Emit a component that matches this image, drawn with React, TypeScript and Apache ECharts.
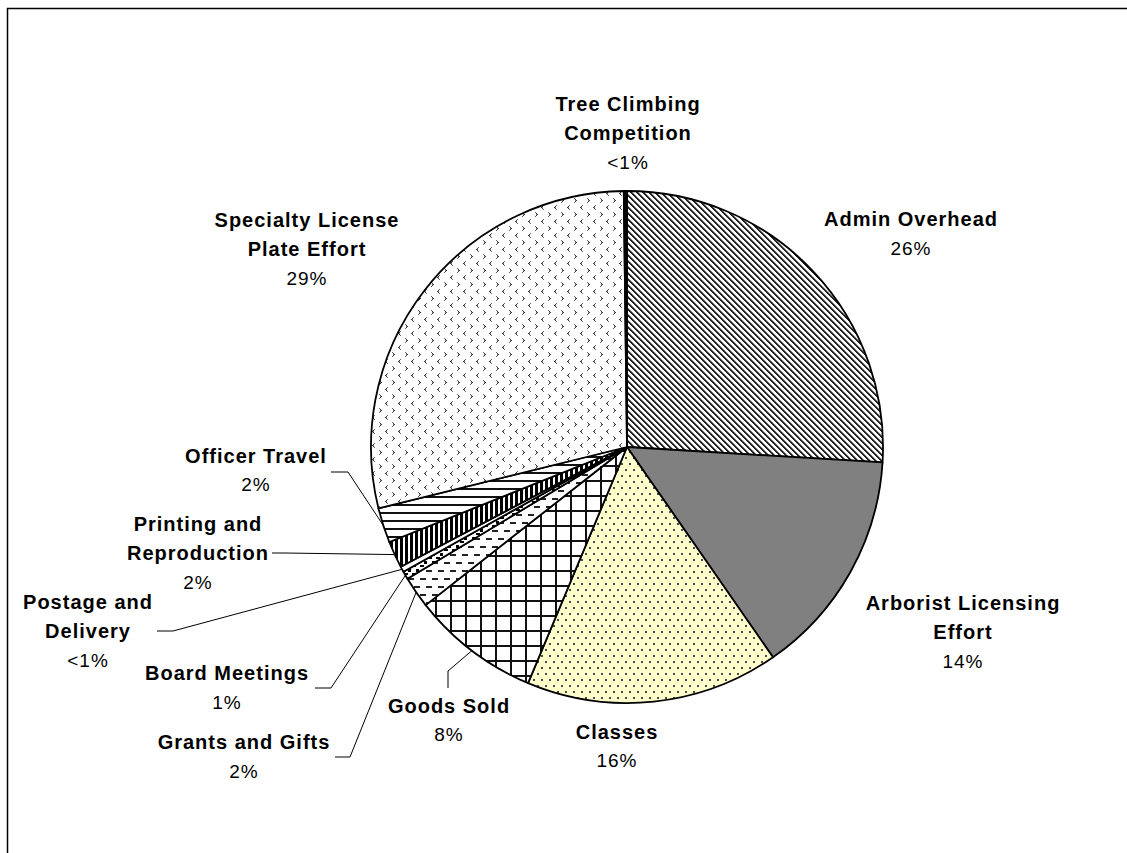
import React, { useEffect, useRef } from "react";
import * as echarts from "echarts";

// ---- data ----
const categories = [
  "Admin Overhead",
  "Arborist Licensing\nEffort",
  "Classes",
  "Goods Sold",
  "Grants and Gifts",
  "Board Meetings",
  "Postage and\nDelivery",
  "Printing and\nReproduction",
  "Officer Travel",
  "Specialty License\nPlate Effort",
  "Tree Climbing\nCompetition",
];
const shares = [26.0, 14.4, 16.0, 8.1, 2.0, 0.5, 0.35, 1.7, 2.2, 28.7, 0.2];
const shareLabels = ["26%", "14%", "16%", "8%", "2%", "1%", "<1%", "2%", "2%", "29%", "<1%"];

// ---- label layout (label block centre, leader-line bend and end) ----
type LL = { at: [number, number]; line: [number, number][] | null };
const LABEL_LAYOUT: LL[] = [
  { at: [911, 233.5], line: null },
  { at: [963, 632], line: null },
  { at: [617, 746], line: null },
  { at: [449, 720], line: [[448, 671], [448, 688]] },
  { at: [244, 756.5], line: [[350, 757], [335, 757]] },
  { at: [227, 687.5], line: [[331, 688], [315, 688]] },
  { at: [88, 631], line: [[173, 631], [157, 631]] },
  { at: [198, 553], line: [[285, 553], [272, 553]] },
  { at: [256, 470], line: [[348, 472], [331, 472]] },
  { at: [307, 249], line: null },
  { at: [628, 133], line: null },
];

const FONT = "'Liberation Sans', Arial, Helvetica, sans-serif";

type Px = (x: number, y: number, c: string) => void;
function tile(w: number, h: number, bg: string, paint: (px: Px, ctx: CanvasRenderingContext2D) => void) {
  const c = document.createElement("canvas");
  c.width = w;
  c.height = h;
  const ctx = c.getContext("2d")!;
  ctx.fillStyle = bg;
  ctx.fillRect(0, 0, w, h);
  const px: Px = (x, y, col) => {
    ctx.fillStyle = col;
    ctx.fillRect(((x % w) + w) % w, ((y % h) + h) % h, 1, 1);
  };
  paint(px, ctx);
  return { image: c.toDataURL(), repeat: "repeat", imageWidth: w, imageHeight: h };
}

function makeFills(): any[] {
  const admin = tile(6, 6, "#ffffff", (px) => {
    for (let x = 0; x < 6; x++)
      for (let y = 0; y < 6; y++) {
        const d = (((x - y) % 6) + 6) % 6;
        if (d < 2) px(x, y, "#222222");
        else if (d === 2) px(x, y, "#8a8a8a");
      }
  });
  const arborist = "#808080";
  const classes = tile(8, 12, "#FFFFCC", (px, ctx) => {
    ctx.fillStyle = "#4a4a4a";
    ctx.fillRect(1, 1, 2, 2);
    ctx.fillRect(5, 7, 2, 2);
  });
  const goods = tile(15, 15, "#ffffff", (px, ctx) => {
    ctx.fillStyle = "#111111";
    ctx.fillRect(0, 0, 15, 2);
    ctx.fillRect(0, 0, 2, 15);
  });
  const grants = tile(12, 16, "#ffffff", (px, ctx) => {
    ctx.fillStyle = "#222222";
    ctx.fillRect(0, 2, 6, 2);
    ctx.fillRect(6, 10, 6, 2);
  });
  const board = tile(8, 8, "#ffffff", (px, ctx) => {
    ctx.fillStyle = "#000000";
    ctx.fillRect(0, 1, 3, 3);
    ctx.fillRect(4, 5, 4, 2);
  });
  const postage = "#ffffff";
  const printing = tile(5, 1, "#ffffff", (px, ctx) => {
    ctx.fillStyle = "#000000";
    ctx.fillRect(0, 0, 3, 1);
  });
  const officer = tile(1, 8, "#ffffff", (px, ctx) => {
    ctx.fillStyle = "#111111";
    ctx.fillRect(0, 0, 1, 2);
  });
  const specialty = tile(13, 14, "#ffffff", (px) => {
    // ">" chevron
    px(2, 2, "#666666"); px(3, 3, "#333333"); px(4, 4, "#333333"); px(3, 5, "#333333"); px(2, 6, "#666666");
    px(3, 4, "#888888");
    // "<" chevron
    px(10, 9, "#666666"); px(9, 10, "#333333"); px(8, 11, "#333333"); px(9, 12, "#333333"); px(10, 13, "#666666");
    px(9, 11, "#888888");
  });
  const tree = "#000000";
  return [admin, arborist, classes, goods, grants, board, postage, printing, officer, specialty, tree];
}

export default function App() {
  const ref = useRef<HTMLDivElement>(null);
  useEffect(() => {
    if (!ref.current) return;
    const chart = echarts.init(ref.current, null, { renderer: "svg" });
    const fills = makeFills();
    const center = [627, 447];
    const radius = 256;
    const data = categories.map((name, i) => ({
      name,
      value: shares[i],
      itemStyle: { color: fills[i] },
      labelLine: { show: LABEL_LAYOUT[i].line != null },
    }));
    chart.setOption({
      animation: false,
      backgroundColor: "#ffffff",
      graphic: [
        {
          type: "rect",
          silent: true,
          shape: { x: 7.5, y: 8.5, width: 1300, height: 1000 },
          style: { fill: "none", stroke: "#000", lineWidth: 1.5 },
        },
      ],
      series: [
        {
          type: "pie",
          center,
          radius,
          startAngle: 90,
          clockwise: true,
          avoidLabelOverlap: false,
          silent: true,
          itemStyle: { borderColor: "#000", borderWidth: 1.8 },
          label: {
            show: true,
            position: "outside",
            color: "#000",
            formatter: (p: any) => `{n|${p.name}}\n{p|${shareLabels[p.dataIndex]}}`,
            rich: {
              n: { fontFamily: FONT, fontWeight: "bold", fontSize: 20, lineHeight: 29, color: "#000", align: "center" },
              p: { fontFamily: FONT, fontSize: 19, lineHeight: 29, color: "#000", align: "center" },
            },
          },
          labelLine: { show: true, length: 10, length2: 10, lineStyle: { color: "#000", width: 1 } },
          labelLayout: (params: any) => {
            const cfg = LABEL_LAYOUT[params.dataIndex];
            const out: any = { x: cfg.at[0], y: cfg.at[1], align: "center", verticalAlign: "middle" };
            if (cfg.line && params.labelLinePoints && params.labelLinePoints.length) {
              out.labelLinePoints = [params.labelLinePoints[0], ...cfg.line];
            }
            return out;
          },
          data,
        },
      ],
    });
    return () => chart.dispose();
  }, []);
  return (
    <div style={{ position: "absolute", left: 0, top: 0 }}>
      <style>{`#chart text { letter-spacing: 1px; }`}</style>
      <div id="chart" ref={ref} style={{ width: 1127, height: 853 }} />
    </div>
  );
}
